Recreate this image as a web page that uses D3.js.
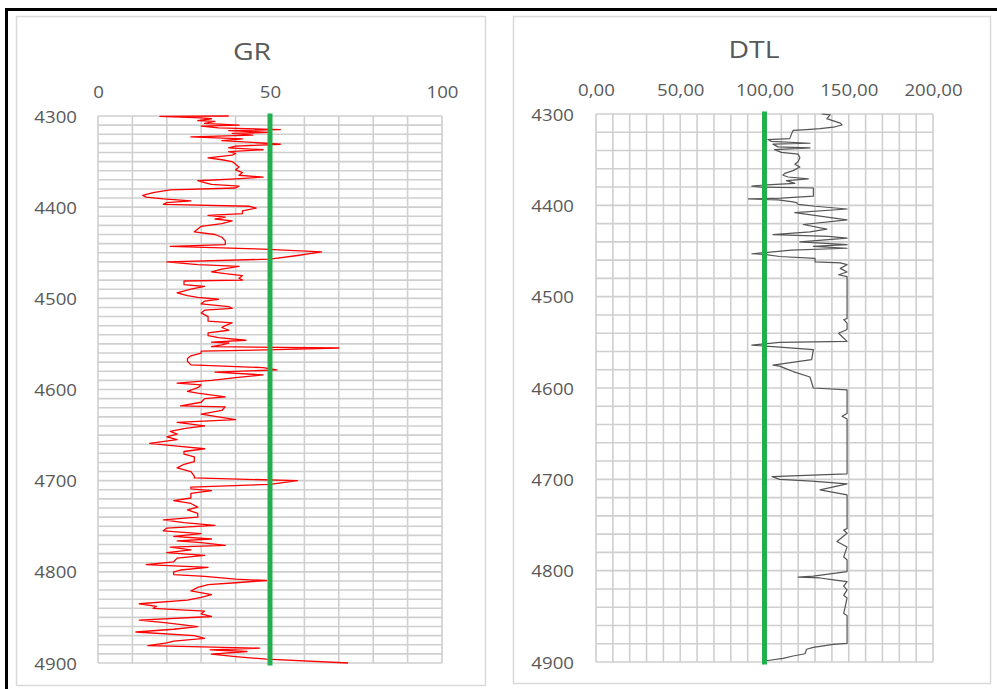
<!DOCTYPE html>
<html>
<head>
<meta charset="utf-8">
<script src="https://cdn.jsdelivr.net/npm/d3@7"></script>
<style>
  html, body { margin: 0; padding: 0; background: #fff; }
  svg { display: block; }
  text { font-family: "Open Sans", "Liberation Sans", sans-serif; fill: #595959; }
</style>
</head>
<body>
<svg id="chart" width="997" height="689"></svg>
<script>
// Well-log tracks: gamma ray (GR) and sonic (DTL) against depth.
const depthDomain = [4300, 4900];
const depthTicks = [4300, 4400, 4500, 4600, 4700, 4800, 4900];

const grDomain = [0, 100];
const grTicks = [0, 50, 100];
const grCutoff = 50;

const dtlDomain = [0, 200];
const dtlTicks = [0, 50, 100, 150, 200];
const dtlCutoff = 100;

// GR readings: [depth, API]
const grCurve = [
  [4300, 38], [4300.5, 18], [4302, 30], [4303, 33], [4305, 29], [4306, 34], [4308, 31],
  [4310, 41], [4311, 30], [4313, 35], [4315, 53], [4316, 38], [4318, 50], [4319, 39],
  [4321, 45], [4323, 27], [4325, 42], [4327, 36], [4329, 45], [4331, 53], [4333, 40],
  [4335, 38], [4337, 48], [4339, 38], [4341, 40], [4343, 39], [4346, 32], [4348, 36],
  [4350, 39], [4353, 40], [4356, 41], [4359, 40], [4362, 42], [4365, 41], [4367, 48],
  [4369, 40], [4371, 29], [4373, 31], [4375, 33], [4377, 41], [4379, 40], [4381, 21],
  [4384, 16], [4387, 13], [4389, 14], [4391, 19], [4393, 27], [4395, 20], [4397, 19],
  [4399, 44], [4401, 46], [4404, 42], [4407, 42], [4409, 32], [4411, 37], [4413, 34],
  [4415, 39], [4418, 36], [4421, 30], [4424, 29], [4427, 28], [4430, 34], [4433, 36],
  [4437, 37], [4441, 37], [4443, 21], [4446, 48], [4449, 65], [4453, 58], [4457, 50],
  [4460, 20], [4463, 29], [4465, 41], [4468, 36], [4471, 33], [4473, 37], [4475, 42],
  [4478, 41], [4480, 42], [4481, 25], [4485, 25], [4487, 31], [4490, 27], [4494, 23],
  [4497, 26], [4499, 29], [4501, 35], [4503, 31], [4506, 30], [4509, 38], [4511, 39],
  [4513, 31], [4516, 30], [4520, 32], [4525, 32], [4527, 39], [4530, 37], [4532, 36],
  [4535, 38], [4538, 32], [4541, 32], [4543, 35], [4546, 43], [4548, 33], [4549, 38],
  [4551, 36], [4553, 33], [4554.5, 70], [4556, 55], [4558, 30], [4560, 30], [4563, 27],
  [4566, 26], [4569, 26], [4573, 27], [4576, 48], [4578.5, 52], [4581, 34], [4584, 48],
  [4587, 40], [4590, 33], [4593, 23], [4595, 30], [4598, 29], [4602, 26], [4604, 29],
  [4608, 37], [4610, 31], [4614, 30], [4618, 24], [4619, 37], [4623, 36], [4627, 30],
  [4630, 35], [4633, 40], [4636, 23], [4640, 31], [4643, 25], [4646, 21], [4649, 23],
  [4652, 20], [4655, 23], [4659, 15], [4662, 23], [4665, 31], [4668, 25], [4671, 25],
  [4674, 28], [4679, 28], [4682, 25], [4686, 23], [4690, 27], [4695, 28], [4697, 28],
  [4700, 58], [4704, 50], [4707, 27], [4709, 27], [4711, 33], [4714, 27], [4719, 27],
  [4722, 22], [4725, 27], [4729, 29], [4732, 26], [4736, 29], [4740, 29], [4743, 19],
  [4746, 25], [4749, 34], [4752, 20], [4755, 19], [4758, 30], [4761, 22], [4764, 33],
  [4766, 23], [4768, 30], [4771, 37], [4773, 21], [4776, 27], [4779, 20], [4782, 31],
  [4785, 23], [4789, 22], [4792, 14], [4795, 32], [4798, 24], [4800, 22], [4803, 22],
  [4805, 31], [4808, 40], [4809.5, 49], [4812, 40], [4814, 32], [4817, 29], [4821, 27],
  [4825, 33], [4828, 30], [4831, 26], [4835, 12], [4838, 17], [4840, 16], [4843, 31],
  [4846, 30], [4849, 33], [4853, 12], [4856, 20], [4860, 29], [4863, 22], [4866, 11],
  [4870, 28], [4873, 31], [4876, 22], [4878, 20], [4881, 14.5], [4883.7, 47], [4885.5, 32.6],
  [4887.4, 43.3], [4890.3, 33], [4893, 40], [4895.8, 49], [4900, 72.7]
];

// DTL readings: [depth, us/ft]
const dtlCurve = [
  [4300, 134], [4301, 139], [4305, 137], [4307, 140], [4310, 145], [4312, 146], [4314, 142],
  [4316, 133], [4317, 125], [4318, 117], [4322, 116], [4327, 115], [4328, 102], [4330, 104],
  [4332, 127], [4333, 105], [4336, 108], [4337, 127], [4339, 106], [4342, 110], [4344, 120],
  [4348, 121], [4352, 120], [4355, 118], [4358, 121], [4362, 117], [4365, 112], [4367, 111],
  [4369, 114], [4371, 126], [4373, 113], [4376, 118], [4378, 98], [4379, 92.5], [4380, 98],
  [4381, 129], [4384, 129], [4390, 129], [4392, 110], [4393, 90.5], [4394, 108], [4396, 116],
  [4397, 119], [4399, 120], [4401, 130], [4404, 149], [4408, 118], [4416, 149], [4421, 123],
  [4426, 137], [4429, 127], [4432, 105], [4434, 138], [4436, 149], [4440, 121], [4443, 149],
  [4445, 129], [4447, 149], [4449, 116], [4453, 92.5], [4454, 101], [4456, 109], [4458, 130],
  [4462, 130], [4463, 145], [4465, 149], [4469, 145], [4473, 149], [4476, 144], [4478, 149],
  [4524, 149], [4525, 147], [4529, 149], [4536, 149], [4540, 144], [4549, 149], [4550, 109],
  [4553, 92.5], [4555, 107], [4558, 129], [4569, 128], [4575, 105], [4576, 109], [4579, 113],
  [4582, 117], [4588, 127], [4600, 129], [4602, 149], [4628, 149], [4631, 146], [4634, 149],
  [4694, 149], [4697, 104.5], [4700, 109], [4702, 128], [4705, 149], [4711.6, 133], [4717, 149],
  [4754, 149], [4755.5, 147], [4759, 149], [4768, 143], [4774, 149], [4785, 147], [4788, 149],
  [4801, 149], [4806, 129], [4807, 120], [4808, 133], [4810, 141], [4812, 149], [4817, 147],
  [4821, 149], [4827, 147], [4830, 149], [4847, 147], [4849, 149], [4879.6, 149], [4880.7, 140.8],
  [4884, 129], [4886, 125], [4891, 124], [4893.4, 117], [4896, 111], [4898.6, 101], [4900, 100]
];

const svg = d3.select("#chart");

// outer black frame (runs off the right and bottom edges)
svg.append("rect")
  .attr("x", 6.5).attr("y", 9.5).attr("width", 1100).attr("height", 800)
  .attr("fill", "none").attr("stroke", "#000").attr("stroke-width", 3);

const gridColor = "#cfcfcf";
const labelSize = 16.5;
const hScale = 1.13;

function stretchedText(g, x, y, str, size, anchor, sx) {
  g.append("g").attr("transform", `translate(${x},${y}) scale(${sx},1)`)
    .append("text")
    .attr("text-anchor", anchor)
    .attr("font-size", size)
    .text(str);
}

function track(cfg) {
  const g = svg.append("g");

  // panel border
  g.append("rect")
    .attr("x", cfg.panel[0] + 0.5).attr("y", cfg.panel[1] + 0.5)
    .attr("width", cfg.panel[2]).attr("height", cfg.panel[3])
    .attr("fill", "#fff").attr("stroke", "#d9d9d9").attr("stroke-width", 1.5);

  const x = d3.scaleLinear().domain(cfg.xDomain).range(cfg.xRange);
  const y = d3.scaleLinear().domain(depthDomain).range(cfg.yRange);

  // grid
  const grid = g.append("g").attr("stroke", gridColor).attr("stroke-width", 1.6);
  grid.selectAll("line.v")
    .data(d3.range(cfg.xDomain[0], cfg.xDomain[1] + 0.001, cfg.xMinor))
    .join("line")
    .attr("x1", d => x(d)).attr("x2", d => x(d))
    .attr("y1", y(depthDomain[0])).attr("y2", y(depthDomain[1]));
  grid.selectAll("line.h")
    .data(d3.range(depthDomain[0], depthDomain[1] + 0.001, cfg.yMinor))
    .join("line")
    .attr("x1", x(cfg.xDomain[0])).attr("x2", x(cfg.xDomain[1]))
    .attr("y1", d => y(d)).attr("y2", d => y(d));

  // title
  stretchedText(g, cfg.titleX, cfg.titleY, cfg.title, 24.5, "middle", 1.16);

  // top value axis labels
  const xAxis = d3.axisTop(x).tickValues(cfg.xTicks).tickSize(0).tickPadding(0).tickFormat(cfg.fmt);
  const xa = g.append("g").attr("transform", `translate(0,${cfg.xLabelY})`).call(xAxis);
  xa.select(".domain").remove();
  xa.selectAll("text").remove();
  xa.selectAll(".tick").each(function (d) {
    stretchedText(d3.select(this), 0, 0, cfg.fmt(d), labelSize, "middle", hScale);
  });

  // depth axis labels
  const yAxis = d3.axisLeft(y).tickValues(depthTicks).tickSize(0).tickPadding(0);
  const ya = g.append("g").attr("transform", `translate(${cfg.yLabelX},0)`).call(yAxis);
  ya.select(".domain").remove();
  ya.selectAll("text").remove();
  ya.selectAll(".tick").each(function (d) {
    stretchedText(d3.select(this), 0, 6, String(d), labelSize, "end", hScale);
  });

  // log curve
  const line = d3.line().x(d => x(d[1])).y(d => y(d[0]));
  g.append("path").datum(cfg.curve)
    .attr("d", line)
    .attr("fill", "none")
    .attr("stroke", cfg.color).attr("stroke-width", cfg.width)
    .attr("stroke-linejoin", "round");

  // cutoff line
  g.append("path").datum([[depthDomain[0], cfg.cutoff], [depthDomain[1], cfg.cutoff]])
    .attr("d", line)
    .attr("fill", "none")
    .attr("stroke", "#22b04e").attr("stroke-width", 5)
    .attr("stroke-linecap", "square");
}

track({
  panel: [16, 16, 469, 669],
  title: "GR", titleX: 252, titleY: 60,
  xDomain: grDomain, xRange: [98, 442], xMinor: 10, xTicks: grTicks,
  fmt: d3.format("d"),
  yRange: [116, 663], yMinor: 10,
  xLabelY: 98, yLabelX: 77,
  curve: grCurve, color: "#ff0000", width: 1.3,
  cutoff: grCutoff
});

track({
  panel: [513, 16, 477, 667],
  title: "DTL", titleX: 754, titleY: 58,
  xDomain: dtlDomain, xRange: [596, 933], xMinor: 10, xTicks: dtlTicks,
  fmt: d => d3.format(".2f")(d).replace(".", ","),
  yRange: [114, 662], yMinor: 20,
  xLabelY: 96, yLabelX: 574,
  curve: dtlCurve, color: "#555555", width: 1.2,
  cutoff: dtlCutoff
});
</script>
</body>
</html>
